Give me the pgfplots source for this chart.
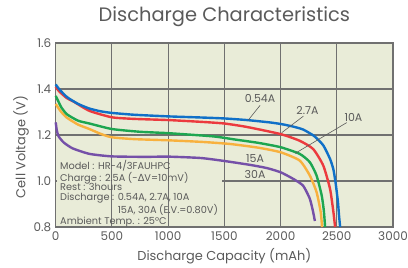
\documentclass[border=0pt]{standalone}
\usepackage{fontspec}
\setmainfont{Poppins}
\newfontfamily\dejavu{DejaVu Sans}
\usepackage{pgfplots}
\pgfplotsset{compat=1.18}
\definecolor{bgc}{HTML}{E9ECD8}
\definecolor{gridc}{HTML}{707070}
\definecolor{txt}{HTML}{5A5A5A}
\definecolor{cblue}{HTML}{1070C8}
\definecolor{cred}{HTML}{EC3A3E}
\definecolor{cgreen}{HTML}{1DA650}
\definecolor{corange}{HTML}{F8B13E}
\definecolor{cpurple}{HTML}{7550A8}
\begin{document}
\begin{tikzpicture}
\begin{axis}[
  scale only axis, width=337.3bp, height=184bp,
  xmin=0, xmax=3000, ymin=0.8, ymax=1.6,
  xtick={0,500,...,3000}, ytick={0.8,1.0,1.2,1.4,1.6},
  y tick label style={/pgf/number format/fixed, /pgf/number format/fixed zerofill, /pgf/number format/precision=1, xshift=-1bp},
  /pgf/number format/assume math mode=true,
  /pgf/number format/1000 sep={},
  scaled x ticks=false,
  grid=major, major grid style={gridc, line width=1.1pt},
  axis line style={gridc, line width=1.3pt},
  major tick length=0pt,
  axis background/.style={fill=bgc},
  tick label style={font=\fontsize{12}{12}\selectfont, text=txt},
  x tick label style={yshift=-1bp},
  xlabel={Discharge Capacity (mAh)},
  ylabel={Cell Voltage (V)},
  label style={font=\fontsize{13}{13}\selectfont, text=txt},
  xlabel style={yshift=-1bp},
  ylabel style={yshift=-2bp, xshift=-12bp},
  title={Discharge Characteristics},
  title style={font=\fontsize{19.5}{19.5}\selectfont, text=txt, anchor=base, at={(0.5,1)}, yshift=16bp},
  clip=false,
  every axis plot/.append style={line width=2.4bp, line join=round, no marks, smooth, tension=0.35},
]
\draw[bgc, line width=1.6pt] (axis cs:8,1.0) -- (axis cs:1480,1.0);
\draw[gridc, line width=1.1pt] (axis cs:500,0.96) -- (axis cs:500,1.04);
\draw[gridc, line width=1.1pt] (axis cs:1000,0.96) -- (axis cs:1000,1.04);
\addplot[cpurple] coordinates {(0,1.255) (10,1.22) (25,1.195) (70,1.168) (150,1.142) (300,1.118) (500,1.107) (800,1.105) (1000,1.106) (1290,1.1) (1500,1.087) (1730,1.07) (1880,1.056) (2000,1.038) (2110,1.01) (2200,0.98) (2260,0.923) (2290,0.865) (2305,0.826)};
\addplot[corange] coordinates {(0,1.335) (20,1.32) (50,1.3) (100,1.275) (200,1.245) (300,1.226) (400,1.205) (500,1.19) (700,1.182) (1000,1.177) (1300,1.17) (1550,1.161) (1800,1.145) (2000,1.125) (2170,1.089) (2260,1.024) (2320,0.952) (2357,0.865) (2369,0.80)};
\addplot[cgreen] coordinates {(0,1.37) (20,1.35) (50,1.32) (100,1.29) (200,1.262) (300,1.25) (500,1.226) (750,1.214) (1000,1.208) (1400,1.194) (1600,1.18) (1800,1.166) (2000,1.147) (2170,1.118) (2260,1.082) (2320,1.024) (2366,0.937) (2385,0.87) (2396,0.80)};
\addplot[cred] coordinates {(0,1.41) (30,1.39) (100,1.36) (160,1.345) (300,1.305) (500,1.277) (700,1.27) (1000,1.265) (1300,1.257) (1500,1.25) (1700,1.235) (2000,1.204) (2170,1.175) (2290,1.139) (2380,1.067) (2440,0.966) (2470,0.865) (2485,0.80)};
\addplot[cblue] coordinates {(0,1.42) (30,1.40) (100,1.365) (200,1.335) (300,1.315) (400,1.303) (500,1.296) (700,1.288) (1000,1.281) (1300,1.276) (1500,1.272) (1700,1.265) (1900,1.255) (2000,1.248) (2100,1.238) (2200,1.224) (2300,1.195) (2380,1.155) (2440,1.096) (2470,1.05) (2490,0.99) (2510,0.91) (2520,0.85) (2530,0.80)};
\draw[txt, line width=0.6pt] (axis cs:1818,1.329) -- (axis cs:1713,1.265);
\draw[txt, line width=0.6pt] (axis cs:2203,1.282) -- (axis cs:2010,1.21);
\draw[txt, line width=0.6pt] (axis cs:2589,1.254) -- (axis cs:2129,1.12);
\begin{scope}[every node/.style={font=\fontsize{11}{11}\selectfont, text=txt, inner sep=0pt}]
\node at (axis cs:1818,1.358) {0.54A};
\node at (axis cs:2239,1.307) {2.7A};
\node at (axis cs:2648,1.278) {10A};
\node at (axis cs:1773,1.099) {15A};
\node at (axis cs:1773,1.027) {30A};
\end{scope}
\node[anchor=north west, align=left, inner sep=0pt, text=txt,
  font=\fontsize{9.8}{10}\selectfont] at (axis cs:38,1.092)
  {Model : HR-4/3FAUHPC\\
   Charge : 2.5A (-{\dejavu Δ}V=10mV)\\
   Rest : 3hours\\
   Discharge : 0.54A, 2.7A, 10A\\
   \phantom{Discharge : }15A, 30A (E.V.=0.80V)\\
   Ambient Temp. : 25°C};
\end{axis}
\pgfresetboundingbox
\useasboundingbox (-55.7bp,-41bp) rectangle (352.3bp,227bp);
\end{tikzpicture}
\end{document}
